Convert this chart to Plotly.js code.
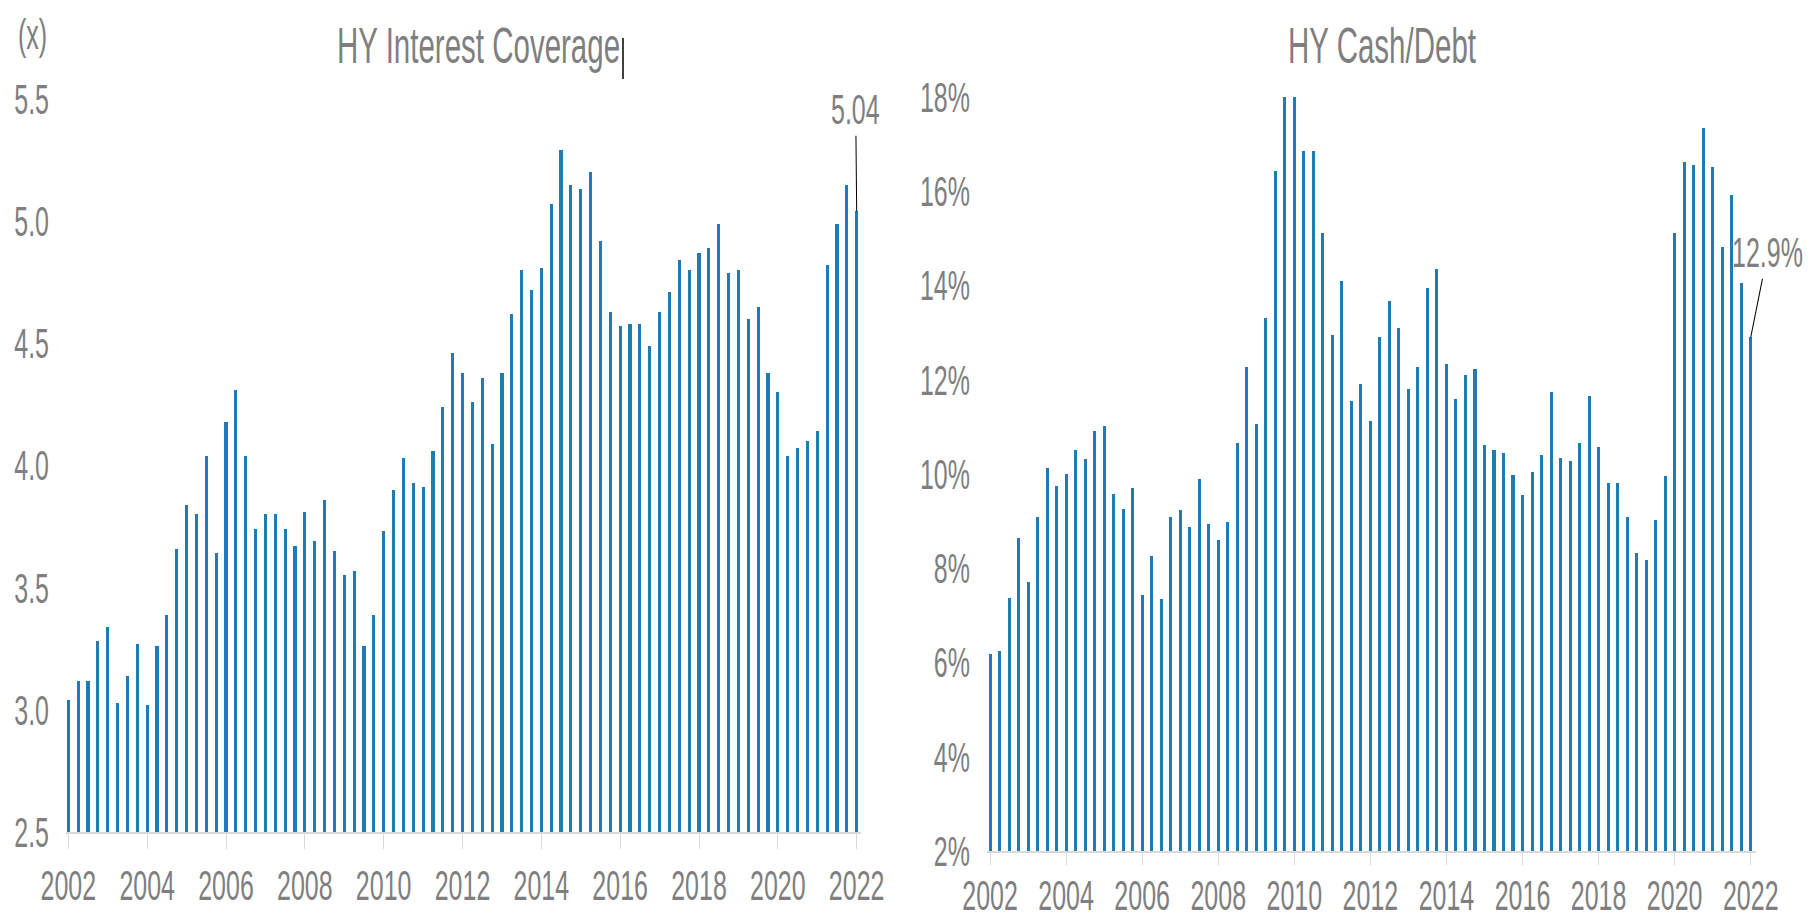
<!DOCTYPE html>
<html>
<head>
<meta charset="utf-8">
<script src="https://cdn.plot.ly/plotly-3.0.1.min.js"></script>
<style>
  html, body { margin: 0; padding: 0; background: #ffffff; overflow: hidden; }
  #wrap { width: 1810px; height: 923px; overflow: hidden; }
  #chart { width: 1810px; height: 543px; transform: scaleY(1.69982); transform-origin: 0 0; }
</style>
</head>
<body>
<div id="wrap"><div id="chart"></div></div>
<script>
// ---- data ----
const startYear = 2002;
const yearTicks = [2002, 2004, 2006, 2008, 2010, 2012, 2014, 2016, 2018, 2020, 2022];

const coverage = [
  3.04, 3.12, 3.12, 3.28, 3.34, 3.03, 3.14, 3.27, 3.02, 3.26,
  3.39, 3.66, 3.84, 3.80, 4.04, 3.64, 4.18, 4.31, 4.04, 3.74,
  3.80, 3.80, 3.74, 3.67, 3.81, 3.69, 3.86, 3.65, 3.55, 3.57,
  3.26, 3.39, 3.73, 3.90, 4.03, 3.93, 3.91, 4.06, 4.24, 4.46,
  4.38, 4.26, 4.36, 4.09, 4.38, 4.62, 4.80, 4.72, 4.81, 5.07,
  5.29, 5.15, 5.13, 5.20, 4.92, 4.63, 4.57, 4.58, 4.58, 4.49,
  4.63, 4.71, 4.84, 4.80, 4.87, 4.89, 4.99, 4.79, 4.80, 4.60,
  4.65, 4.38, 4.30, 4.04, 4.07, 4.10, 4.14, 4.82, 4.99, 5.15,
  5.04
];

const cashDebt = [
  6.17, 6.24, 7.36, 8.65, 7.71, 9.08, 10.13, 9.74, 9.99, 10.50,
  10.31, 10.91, 11.01, 9.58, 9.26, 9.71, 7.43, 8.27, 7.35, 9.08,
  9.24, 8.87, 9.89, 8.94, 8.59, 8.99, 10.66, 12.26, 11.06, 13.32,
  16.44, 18.00, 18.00, 16.85, 16.85, 15.12, 12.94, 14.09, 11.55, 11.90,
  11.12, 12.90, 13.67, 13.09, 11.81, 12.28, 13.94, 14.36, 12.34, 11.60,
  12.10, 12.23, 10.62, 10.50, 10.45, 9.97, 9.56, 10.05, 10.40, 11.74,
  10.35, 10.28, 10.65, 11.66, 10.57, 9.81, 9.81, 9.09, 8.32, 8.18,
  9.03, 9.96, 15.11, 16.62, 16.55, 17.35, 16.51, 14.81, 15.91, 14.05,
  12.9
];

const leftTicks = [2.5, 3.0, 3.5, 4.0, 4.5, 5.0, 5.5];
const rightTicks = [2, 4, 6, 8, 10, 12, 14, 16, 18];

const titleLeft = 'HY Interest Coverage';
const titleRight = 'HY Cash/Debt';
const unitLabel = '(x)';

// quarter positions (categories)
const quarterX = coverage.map((_, i) => startYear + i / 4);

// ---- styling ----
const FONT = "'Liberation Sans', Arial, sans-serif";
const GREY = '#7f7f7f';
const BAR = '#1f7bb6';
const LINE = '#d9d9d9';

const tickFont = { family: FONT, size: 25, color: GREY };

const xCommon = {
  tickmode: 'array', tickvals: yearTicks, ticktext: yearTicks.map(String),
  ticks: 'outside', ticklen: 9, tickwidth: 1, tickcolor: LINE,
  showline: true, linecolor: LINE, linewidth: 1,
  showgrid: false, zeroline: false, tickfont: tickFont,
  fixedrange: true
};
const yCommon = {
  showgrid: false, zeroline: false, showline: false, ticks: '',
  tickfont: tickFont, ticklabelstandoff: 16, fixedrange: true
};

const traces = [
  { type: 'bar', x: quarterX, y: coverage, xaxis: 'x', yaxis: 'y',
    width: 0.08, marker: { color: BAR, line: { width: 0 } }, hoverinfo: 'skip' },
  { type: 'bar', x: quarterX, y: cashDebt, xaxis: 'x2', yaxis: 'y2',
    width: 0.08, marker: { color: BAR, line: { width: 0 } }, hoverinfo: 'skip' }
];

const lastX = quarterX[quarterX.length - 1];
const lastCov = coverage[coverage.length - 1];
const lastCash = cashDebt[cashDebt.length - 1];

const layout = {
  width: 1810, height: 543,
  margin: { l: 0, r: 0, t: 0, b: 0 },
  paper_bgcolor: '#ffffff', plot_bgcolor: '#ffffff',
  showlegend: false, bargap: 0,
  font: { family: FONT, color: GREY },
  xaxis: Object.assign({}, xCommon, { domain: [0.03646, 0.4757], range: [2001.94, 2022.11], anchor: 'y' }),
  yaxis: Object.assign({}, yCommon, { domain: [0.0986, 0.8927], range: [2.5, 5.5],
    tickmode: 'array', tickvals: leftTicks, ticktext: leftTicks.map(v => v.toFixed(1)), anchor: 'x' }),
  xaxis2: Object.assign({}, xCommon, { domain: [0.5453, 0.9702], range: [2001.92, 2022.14], anchor: 'y2',
    ticklen: 7, ticklabelstandoff: -3 }),
  yaxis2: Object.assign({}, yCommon, { domain: [0.0780, 0.8949], range: [2, 18],
    tickmode: 'array', tickvals: rightTicks, ticktext: rightTicks.map(v => v + '%'), anchor: 'x2' }),
  annotations: [
    { xref: 'paper', yref: 'paper', x: 0.2646, y: 0.951, xanchor: 'center', yanchor: 'middle',
      text: titleLeft, showarrow: false, font: { family: FONT, size: 29.5, color: GREY } },
    { xref: 'paper', yref: 'paper', x: 0.7635, y: 0.951, xanchor: 'center', yanchor: 'middle',
      text: titleRight, showarrow: false, font: { family: FONT, size: 29.5, color: GREY } },
    { xref: 'paper', yref: 'paper', x: 0.0177, y: 0.963, xanchor: 'center', yanchor: 'middle',
      text: unitLabel, showarrow: false, font: { family: FONT, size: 25, color: GREY } },
    { xref: 'x', yref: 'y', x: lastX, y: lastCov, text: lastCov.toFixed(2),
      showarrow: true, arrowhead: 0, arrowwidth: 1, arrowcolor: '#000000',
      ax: -1, ay: -60, font: { family: FONT, size: 25, color: GREY } },
    { xref: 'x2', yref: 'y2', x: lastX, y: lastCash, text: lastCash.toFixed(1) + '%',
      showarrow: true, arrowhead: 0, arrowwidth: 1, arrowcolor: '#000000',
      ax: 17, ay: -50, font: { family: FONT, size: 25, color: GREY } }
  ],
  shapes: [
    { type: 'line', xref: 'paper', yref: 'paper', x0: 0.3442, x1: 0.3442, y0: 0.9588, y1: 0.9144,
      line: { color: '#000000', width: 1.5 } }
  ]
};

Plotly.newPlot('chart', traces, layout, { staticPlot: true, displayModeBar: false });
</script>
</body>
</html>
